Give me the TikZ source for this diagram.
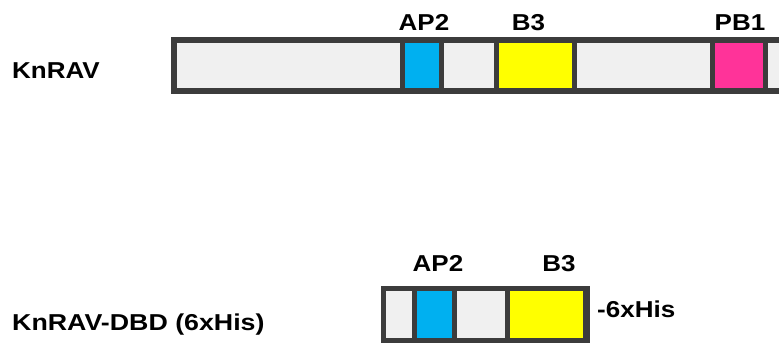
\documentclass[tikz,border=0pt]{standalone}
\usepackage{fontspec}
\setmainfont{Liberation Sans}
\definecolor{frame}{HTML}{3C3C3C}
\definecolor{bg}{HTML}{F0F0F0}
\definecolor{ap}{HTML}{00B0F0}
\definecolor{bthree}{HTML}{FFFF00}
\definecolor{pb}{HTML}{FF3399}
\newcommand\wideT[1]{\scalebox{1.13}[1]{#1}}
\begin{document}
\begin{tikzpicture}[x=1pt,y=-1pt,
  lbl/.style={inner sep=0pt,font=\fontsize{23}{27}\selectfont\bfseries},
  barbox/.style={draw=frame,fill=bg,line width=5.5pt},
  dom/.style={draw=frame,line width=5.5pt}]
\useasboundingbox (0,0) rectangle (779,345);
\clip (0,0) rectangle (779,345);
% top bar
\draw[barbox] (174,40) rectangle (800,91);
\draw[dom,fill=ap] (402.5,40) rectangle (441.5,91);
\draw[dom,fill=bthree] (496.5,40) rectangle (574.5,91);
\draw[dom,fill=pb] (712.5,40) rectangle (765.5,91);
% bottom bar
\fill[bg] (381,286) rectangle (590,343);
\draw[frame,line width=5pt] (588,288.5) -- (383.5,288.5) -- (383.5,340.5) -- (588,340.5);
\draw[dom,line width=5pt,fill=ap] (414.5,288.5) rectangle (454.5,340.5);
\draw[dom,line width=5pt,fill=bthree] (507.5,288.5) rectangle (585.5,340.5);
\draw[frame,line width=2pt] (589,286) -- (589,343);
% labels
\node[lbl,anchor=base west] (t1) at (12,78) {\wideT{KnRAV}};
\node[lbl,anchor=base] (t2) at (424,31) {\wideT{AP2}};
\node[lbl,anchor=base] (t3) at (528.5,31) {\wideT{B3}};
\node[lbl,anchor=base] (t4) at (740,31) {\wideT{PB1}};
\node[lbl,anchor=base] (t5) at (438,271) {\wideT{AP2}};
\node[lbl,anchor=base] (t6) at (559,271) {\wideT{B3}};
\node[lbl,anchor=base west] (t7) at (12,330) {\scalebox{1.03}[1]{\wideT{KnRAV-DBD (6xHis)}}};
\node[lbl,anchor=base west] (t8) at (597,317) {\wideT{-6xHis}};
\end{tikzpicture}
\end{document}
